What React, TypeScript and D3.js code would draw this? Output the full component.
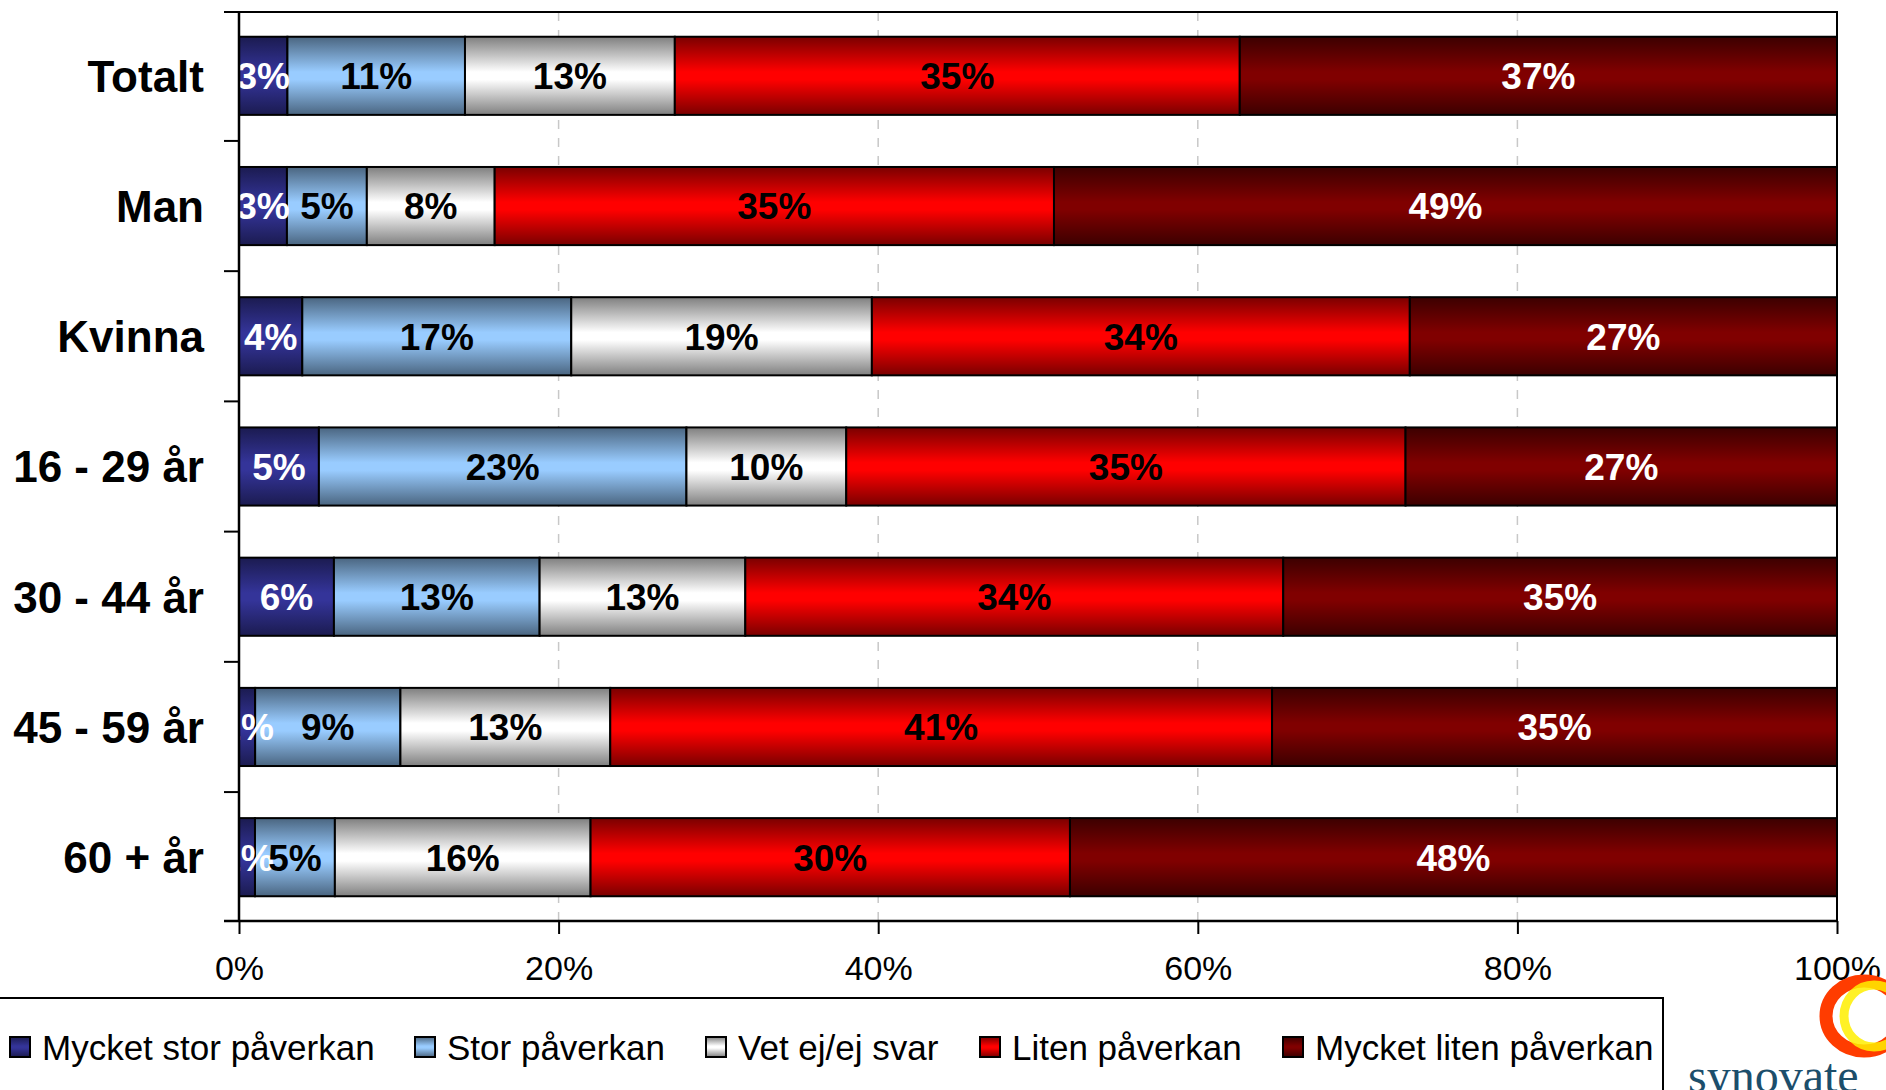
import { useEffect, useRef } from 'react';
import * as d3 from 'd3';

const categories = ['Totalt', 'Man', 'Kvinna', '16 - 29 år', '30 - 44 år', '45 - 59 år', '60 + år'];
const seriesNames = ['Mycket stor påverkan', 'Stor påverkan', 'Vet ej/ej svar', 'Liten påverkan', 'Mycket liten påverkan'];
const myckeStor = [3, 3, 4, 5, 6, 1, 1];
const stor = [11, 5, 17, 23, 13, 9, 5];
const vetEj = [13, 8, 19, 10, 13, 13, 16];
const liten = [35, 35, 34, 35, 34, 41, 30];
const mycketLiten = [37, 49, 27, 27, 35, 35, 48];
const xTicks = [0, 0.2, 0.4, 0.6, 0.8, 1];

// gradient stops: edge colour, centre colour, label colour
const palette = [
  { edge: '#1b1b50', mid: '#343499', text: '#ffffff' },
  { edge: '#4a6580', mid: '#99ccff', text: '#000000' },
  { edge: '#7f7f7f', mid: '#ffffff', text: '#000000' },
  { edge: '#7a0000', mid: '#ff0000', text: '#000000' },
  { edge: '#3c0000', mid: '#800000', text: '#ffffff' },
];

const W = 1886;
const H = 1090;

export default function App() {
  const svgRef = useRef<SVGSVGElement>(null);

  useEffect(() => {
    if (!svgRef.current) return;
    d3.select(svgRef.current).selectAll('*').remove();

    const svg = d3.select(svgRef.current).attr('width', W).attr('height', H);
    const font = 'Liberation Sans, Arial, sans-serif';

    const rows = categories.map((c, i) => ({
      cat: c,
      s0: myckeStor[i], s1: stor[i], s2: vetEj[i], s3: liten[i], s4: mycketLiten[i],
    }));
    const keys = ['s0', 's1', 's2', 's3', 's4'];
    const stacked = d3.stack<any>().keys(keys).offset(d3.stackOffsetExpand)(rows);

    const left = 239, right = 1837, top = 12, bottom = 921;
    const x = d3.scaleLinear().domain([0, 1]).range([left, right]);
    const y = d3.scaleBand<string>().domain(categories).range([top, bottom])
      .paddingInner(0.4).paddingOuter(0.19);

    const defs = svg.append('defs');
    palette.forEach((p, i) => {
      const g = defs.append('linearGradient').attr('id', `grad${i}`)
        .attr('x1', 0).attr('y1', 0).attr('x2', 0).attr('y2', 1);
      g.append('stop').attr('offset', '0%').attr('stop-color', p.edge);
      g.append('stop').attr('offset', '45%').attr('stop-color', p.mid);
      g.append('stop').attr('offset', '55%').attr('stop-color', p.mid);
      g.append('stop').attr('offset', '100%').attr('stop-color', p.edge);
    });
    defs.append('clipPath').attr('id', 'plotClip')
      .append('rect').attr('x', left).attr('y', top).attr('width', right - left).attr('height', bottom - top);

    // grid lines
    svg.append('g')
      .selectAll('line')
      .data(xTicks.slice(1, -1))
      .join('line')
      .attr('x1', d => x(d)).attr('x2', d => x(d))
      .attr('y1', top).attr('y2', bottom)
      .attr('stroke', '#c8c8c8').attr('stroke-width', 1.5)
      .attr('stroke-dasharray', '9,9');

    // bars
    const barG = svg.append('g');
    stacked.forEach((layer, si) => {
      barG.append('g')
        .selectAll('rect')
        .data(layer)
        .join('rect')
        .attr('x', d => x(d[0]))
        .attr('y', d => y(d.data.cat) as number)
        .attr('width', d => x(d[1]) - x(d[0]))
        .attr('height', y.bandwidth())
        .attr('fill', `url(#grad${si})`)
        .attr('stroke', '#000')
        .attr('stroke-width', 2);
    });

    // labels
    const labG = svg.append('g').attr('clip-path', 'url(#plotClip)');
    stacked.forEach((layer, si) => {
      const raw = [myckeStor, stor, vetEj, liten, mycketLiten][si];
      labG.append('g')
        .selectAll('text')
        .data(layer)
        .join('text')
        .attr('x', d => (x(d[0]) + x(d[1])) / 2)
        .attr('y', d => (y(d.data.cat) as number) + y.bandwidth() / 2)
        .attr('dy', '0.36em')
        .attr('text-anchor', 'middle')
        .attr('font-family', font)
        .attr('font-weight', 'bold')
        .attr('font-size', 37)
        .attr('fill', palette[si].text)
        .text((_, i) => `${raw[i]}%`);
    });

    // plot frame (top and right)
    svg.append('path')
      .attr('d', `M${left},${top}H${right}V${bottom}`)
      .attr('fill', 'none').attr('stroke', '#000').attr('stroke-width', 2);

    // y axis
    const yBounds = categories.map(c => (y(c) as number) - y.step() * y.paddingInner() / 2);
    const yAxis = svg.append('g');
    yAxis.append('line').attr('x1', left).attr('x2', left).attr('y1', top).attr('y2', bottom)
      .attr('stroke', '#000').attr('stroke-width', 2.5);
    yAxis.selectAll('line.tick')
      .data([top, ...yBounds.slice(1), bottom])
      .join('line')
      .attr('class', 'tick')
      .attr('x1', left - 15).attr('x2', left)
      .attr('y1', d => d).attr('y2', d => d)
      .attr('stroke', '#000').attr('stroke-width', 2);
    yAxis.selectAll('text')
      .data(categories)
      .join('text')
      .attr('x', 204)
      .attr('y', d => (y(d) as number) + y.bandwidth() / 2)
      .attr('dy', '0.36em')
      .attr('text-anchor', 'end')
      .attr('font-family', font)
      .attr('font-weight', 'bold')
      .attr('font-size', 44)
      .text(d => d);

    // x axis
    const xAxis = svg.append('g')
      .attr('transform', `translate(0,${bottom})`)
      .call(d3.axisBottom(x).tickValues(xTicks).tickFormat(d3.format('.0%')).tickSize(13).tickPadding(22));
    xAxis.select('.domain').attr('stroke', '#000').attr('stroke-width', 2.5)
      .attr('d', `M${left - 15},0H${right}`);
    xAxis.selectAll('.tick line').attr('stroke', '#000').attr('stroke-width', 2);
    xAxis.selectAll('.tick text')
      .attr('font-family', font).attr('font-size', 34).attr('fill', '#000');

    // legend
    const legend = svg.append('g');
    legend.append('path')
      .attr('d', `M0,998H1663V${H + 5}`)
      .attr('fill', 'none').attr('stroke', '#000').attr('stroke-width', 2);
    const legendX = [10, 415, 706, 980, 1283];
    seriesNames.forEach((name, i) => {
      const g = legend.append('g').attr('transform', `translate(${legendX[i]},1047)`);
      g.append('rect').attr('x', 0).attr('y', -10).attr('width', 20).attr('height', 20)
        .attr('fill', `url(#grad${i})`).attr('stroke', '#000').attr('stroke-width', 2);
      g.append('text').attr('x', 32).attr('dy', '0.36em')
        .attr('font-family', font).attr('font-size', 35).attr('fill', '#000')
        .text(name);
    });

    // synovate logo
    const logo = svg.append('g');
    logo.append('ellipse').attr('cx', 1864).attr('cy', 1016).attr('rx', 38).attr('ry', 35)
      .attr('fill', 'none').attr('stroke', '#ff3c00').attr('stroke-width', 13);
    logo.append('ellipse').attr('cx', 1874).attr('cy', 1016).attr('rx', 30).attr('ry', 31)
      .attr('fill', 'none').attr('stroke', '#ffee00').attr('stroke-width', 9).attr('opacity', 0.85);
    logo.append('text').attr('x', 1688).attr('y', 1092)
      .attr('font-family', 'Liberation Serif, serif').attr('font-size', 48)
      .attr('fill', '#1c4e6b')
      .text('synovate');
  }, []);

  return (
    <div style={{ position: 'absolute', left: 0, top: 0, width: W, height: H, background: '#fff' }}>
      <svg ref={svgRef} style={{ display: 'block' }} />
    </div>
  );
}
